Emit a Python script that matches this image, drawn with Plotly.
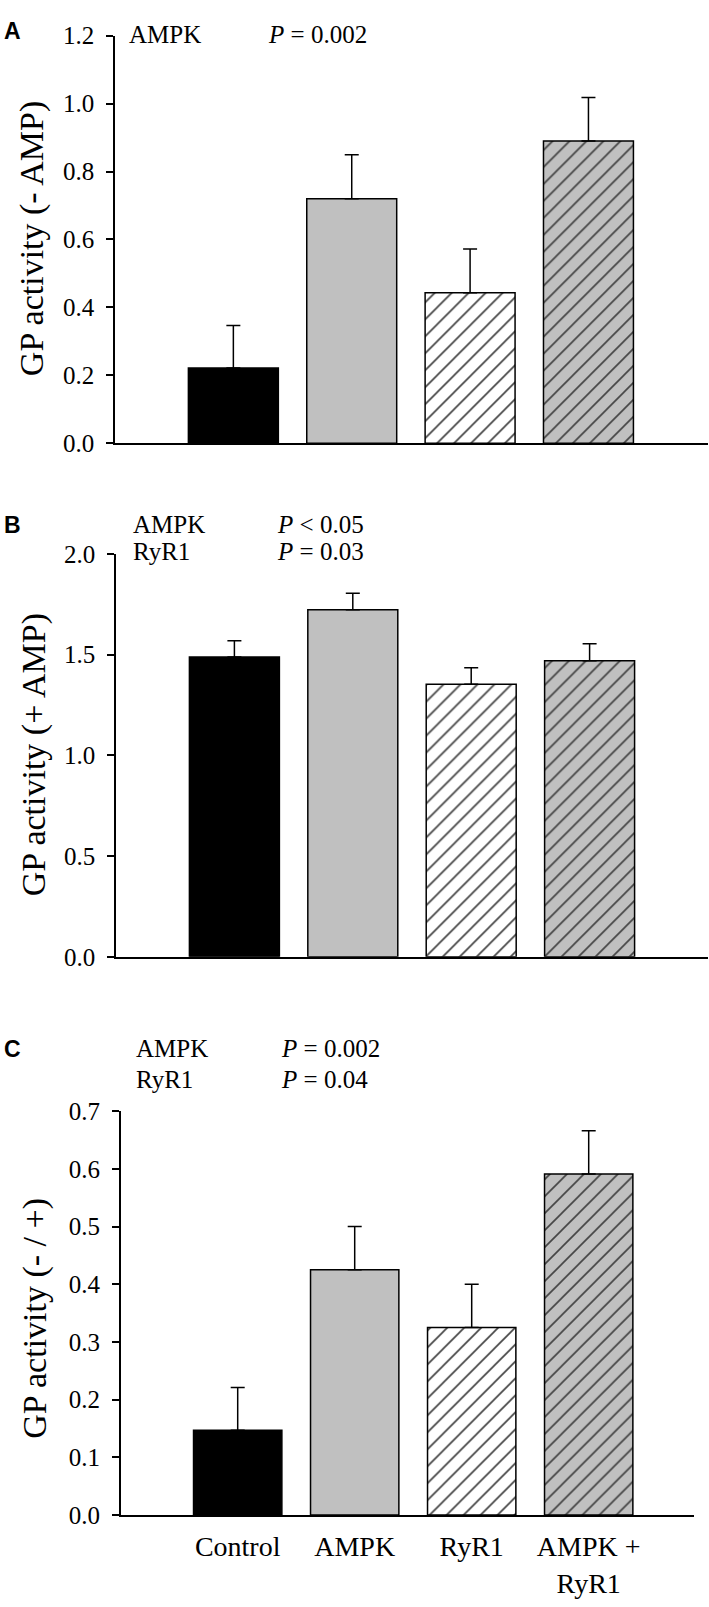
import plotly.graph_objects as go

# ---------------- data ----------------
categories = ["Control", "AMPK", "RyR1", "AMPK +<br>RyR1"]

a_values = [0.222, 0.720, 0.443, 0.890]
a_errors = [0.125, 0.129, 0.129, 0.128]

b_values = [1.488, 1.722, 1.352, 1.469]
b_errors = [0.081, 0.082, 0.083, 0.084]

c_values = [0.147, 0.425, 0.325, 0.591]
c_errors = [0.074, 0.075, 0.075, 0.075]

a_title = "GP activity (- AMP)"
b_title = "GP activity (+ AMP)"
c_title = "GP activity (- / +)"

a_stats = [("AMPK", "<i>P</i> = 0.002")]
b_stats = [("AMPK", "<i>P</i> &lt; 0.05"), ("RyR1", "<i>P</i> = 0.03")]
c_stats = [("AMPK", "<i>P</i> = 0.002"), ("RyR1", "<i>P</i> = 0.04")]

# ---------------- styling ----------------
W, H = 709, 1607
fill_colors = ["black", "#c0c0c0", "white", "#c0c0c0"]
hatch = ["", "", "/", "/"]
SERIF = "Liberation Serif"


def px_x(p):
    return p / W


def px_y(p):
    return 1 - p / H


fig = go.Figure()

panels = [
    dict(v=a_values, e=a_errors, xa="x", ya="y", top=23, bot=437.7, left=115, right=708,
         yr=[0, 1.2], dt=0.2, xr=[-1, 4.01], bw=0.76),
    dict(v=b_values, e=b_errors, xa="x2", ya="y2", top=550, bot=960, left=116, right=708,
         yr=[0, 2.0], dt=0.5, xr=[-1, 4.0], bw=0.76),
    dict(v=c_values, e=c_errors, xa="x3", ya="y3", top=1117, bot=1527.7, left=120.7, right=694,
         yr=[0, 0.7], dt=0.1, xr=[-1, 3.9], bw=0.755),
]

for i, p in enumerate(panels):
    fig.add_trace(go.Bar(
        x=categories, y=p["v"], xaxis=p["xa"], yaxis=p["ya"], width=p["bw"],
        marker=dict(
            color=fill_colors,
            line=dict(color="black", width=1.5),
            pattern=dict(shape=hatch, fgcolor="black", fgopacity=1,
                         size=12, solidity=0.14, fillmode="overlay"),
        ),
        error_y=dict(type="data", array=p["e"], arrayminus=[0] * 4, symmetric=False,
                     color="black", thickness=1.5, width=7),
        showlegend=False,
    ))

layout_axes = {}
for i, p in enumerate(panels):
    suffix = "" if i == 0 else str(i + 1)
    layout_axes["xaxis" + suffix] = dict(
        domain=[px_x(p["left"]), px_x(p["right"])],
        anchor="y" + suffix,
        type="category",
        range=p["xr"],
        showline=True, linecolor="black", linewidth=1.5,
        ticks="", showgrid=False, zeroline=False,
        showticklabels=(i == 2),
        tickfont=dict(family=SERIF, size=28, color="black"),
        ticklabelstandoff=6,
        fixedrange=True,
    )
    layout_axes["yaxis" + suffix] = dict(
        domain=[px_y(p["bot"]), px_y(p["top"])],
        anchor="x" + suffix,
        range=p["yr"], dtick=p["dt"], tick0=0, tickformat=".1f",
        showline=True, linecolor="black", linewidth=1.5,
        ticks="outside", ticklen=7, tickwidth=1.5, tickcolor="black",
        showgrid=False, zeroline=False,
        tickfont=dict(family=SERIF, size=25, color="black"),
        ticklabelstandoff=7,
        fixedrange=True,
    )

annotations = []


def add_text(text, x, y, size, family=SERIF, xanchor="left", angle=0, bold=False):
    annotations.append(dict(
        text=("<b>%s</b>" % text) if bold else text,
        x=px_x(x), y=px_y(y), xref="paper", yref="paper",
        xanchor=xanchor, yanchor="middle", showarrow=False,
        textangle=angle,
        font=dict(family=family, size=size, color="black"),
    ))


# panel letters
add_text("A", 2, 18, 23, family="Liberation Sans", bold=True)
add_text("B", 2, 521, 23, family="Liberation Sans", bold=True)
add_text("C", 2, 1054, 23, family="Liberation Sans", bold=True)

# stats text
for (lab, pv), yy in zip(a_stats, [22]):
    add_text(lab, 127, yy, 25)
    add_text(pv, 266, yy, 25)
for (lab, pv), yy in zip(b_stats, [520, 548]):
    add_text(lab, 131, yy, 25)
    add_text(pv, 275, yy, 25)
for (lab, pv), yy in zip(c_stats, [1053, 1085]):
    add_text(lab, 134, yy, 25)
    add_text(pv, 279, yy, 25)

# y-axis titles
add_text(a_title, 32, 230, 34, xanchor="center", angle=-90)
add_text(b_title, 34, 755, 34, xanchor="center", angle=-90)
add_text(c_title, 35, 1328, 34, xanchor="center", angle=-90)

fig.update_layout(
    width=W, height=H,
    margin=dict(l=0, r=0, t=0, b=0),
    paper_bgcolor="white", plot_bgcolor="white",
    font=dict(family=SERIF, color="black"),
    annotations=annotations,
    **layout_axes,
)

fig.write_html(
    "out.html",
    config={"displayModeBar": False},
    post_script="document.body.style.margin='0';document.body.style.overflow='hidden';",
)
